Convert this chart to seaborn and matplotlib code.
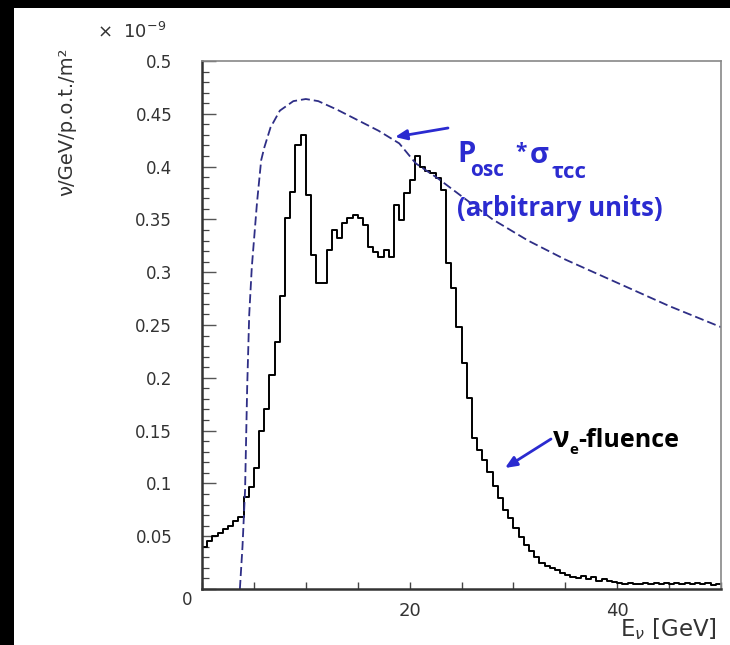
import numpy as np
import pandas as pd
import matplotlib
matplotlib.use("Agg")
import matplotlib.pyplot as plt
import seaborn as sns
from matplotlib.patches import Rectangle
from matplotlib.ticker import FixedLocator, MultipleLocator
from matplotlib import transforms

# ---------------- data ----------------
bin_width = 0.5
fluence_values = [
    0.040, 0.045, 0.050, 0.053, 0.057, 0.060, 0.064, 0.068, 0.087, 0.097,   # 0-5
    0.115, 0.150, 0.170, 0.203, 0.234, 0.277, 0.351, 0.376, 0.420, 0.430,   # 5-10
    0.373, 0.316, 0.290, 0.290, 0.321, 0.340, 0.332, 0.347, 0.351, 0.354,   # 10-15
    0.351, 0.345, 0.324, 0.319, 0.314, 0.321, 0.314, 0.364, 0.349, 0.375,   # 15-20
    0.387, 0.410, 0.400, 0.396, 0.394, 0.389, 0.378, 0.309, 0.285, 0.248,   # 20-25
    0.214, 0.181, 0.143, 0.132, 0.122, 0.111, 0.098, 0.086, 0.075, 0.067,   # 25-30
    0.058, 0.049, 0.042, 0.036, 0.030, 0.025, 0.022, 0.020, 0.018, 0.015,   # 30-35
    0.013, 0.011, 0.010, 0.012, 0.009, 0.011, 0.008, 0.009, 0.008, 0.007,   # 35-40
    0.006, 0.005, 0.006, 0.005, 0.005, 0.006, 0.005, 0.006, 0.005, 0.006,   # 40-45
    0.005, 0.006, 0.005, 0.006, 0.005, 0.006, 0.005, 0.006, 0.004, 0.005,   # 45-50
]
sigma_energy = [3.65, 3.9, 4.15, 4.35, 4.55, 4.8, 5.3, 5.7, 6.0, 6.6, 7.5, 8.8,
                10.0, 11.2, 13.0, 15.0, 17.0, 19.0, 20.6, 22.7, 25.0, 28.0,
                31.4, 35.0, 40.0, 45.0, 50.0]
sigma_value = [0.0, 0.04, 0.094, 0.19, 0.26, 0.305, 0.366, 0.406, 0.418, 0.437,
               0.453, 0.462, 0.464, 0.462, 0.454, 0.444, 0.434, 0.422, 0.403,
               0.389, 0.372, 0.350, 0.330, 0.312, 0.290, 0.268, 0.248]
x_tick_values = [0, 20, 40]
x_tick_labels = ["", "20", "40"]
y_tick_values = [0, 0.05, 0.1, 0.15, 0.2, 0.25, 0.3, 0.35, 0.4, 0.45, 0.5]
y_tick_labels = ["0", "0.05", "0.1", "0.15", "0.2", "0.25", "0.3", "0.35",
                 "0.4", "0.45", "0.5"]

n_bins = len(fluence_values)
centers = (np.arange(n_bins) + 0.5) * bin_width
hist_df = pd.DataFrame({"E": centers, "flux": fluence_values})
curve_df = pd.DataFrame({"E": sigma_energy, "v": sigma_value})

# ---------------- style ----------------
sns.set_style("white")
plt.rcParams["font.family"] = ["DejaVu Sans"]
plt.rcParams["mathtext.fontset"] = "dejavusans"

W, H = 730, 645
fig = plt.figure(figsize=(W / 100, H / 100), dpi=100, facecolor="black")
fig.patches.append(Rectangle((14 / W, 0), 1 - 14 / W, 1 - 8 / H,
                             transform=fig.transFigure, facecolor="white",
                             edgecolor="none", zorder=-10))


def P(x, y):
    return (x / W, 1 - y / H)


ax = fig.add_axes([202 / W, 1 - 589 / H, 519 / W, 528 / H])
ax.set_facecolor("white")

sns.histplot(data=hist_df, x="E", weights="flux", binwidth=bin_width,
             binrange=(0, n_bins * bin_width), element="step",
             fill=False, color="black", linewidth=1.4, ax=ax)
sns.lineplot(data=curve_df, x="E", y="v", color="#2e2e86", linewidth=1.3,
             ax=ax, sort=False)
ax.lines[-1].set_dashes((5, 2.2))

ax.set_xlim(0, 50)
ax.set_ylim(0, 0.5)

ax.xaxis.set_major_locator(FixedLocator(x_tick_values))
ax.xaxis.set_minor_locator(MultipleLocator(5))
ax.set_xticklabels(x_tick_labels)
ax.yaxis.set_major_locator(FixedLocator(y_tick_values))
ax.yaxis.set_minor_locator(MultipleLocator(0.01))
ax.set_yticklabels(y_tick_labels)

ax.tick_params(axis="both", which="both", left=True, bottom=True,
               top=False, right=False)
ax.tick_params(axis="y", which="major", direction="in", length=10, width=1.0,
               color="#555555", pad=21.5, labelsize=12, labelcolor="#333333")
ax.tick_params(axis="y", which="minor", direction="in", length=5, width=0.9,
               color="#444444")
ax.tick_params(axis="x", which="major", direction="in", length=5, width=1.0,
               color="#444444", pad=9, labelsize=13, labelcolor="#333333")
ax.tick_params(axis="x", which="minor", direction="in", length=5, width=1.0,
               color="#444444")

for lab in ax.get_yticklabels():
    if lab.get_text() == "0":
        lab.set_transform(lab.get_transform() +
                          transforms.ScaledTranslation(0.20, -0.09, fig.dpi_scale_trans))

for side in ["left", "bottom"]:
    ax.spines[side].set_linewidth(1.8)
    ax.spines[side].set_color("#333333")
for side in ["top", "right"]:
    ax.spines[side].set_linewidth(1.2)
    ax.spines[side].set_color("#888888")

ax.set_xlabel(r"E$_{\nu}$ [GeV]", fontsize=16.5, color="#333333", loc="right")
ax.xaxis.set_label_coords((717 - 202) / 519, (589 - 616) / 528)
ax.set_ylabel("ν/GeV/p.o.t./m²", fontsize=14, color="#333333", loc="top")
ax.yaxis.set_label_coords((76 - 202) / 519, (589 - 47) / 528)

fig.text(*P(97, 38), r"$\times$  10$^{-9}$", fontsize=13, color="#333333",
         ha="left", va="baseline")

blue = "#2b2bd0"
tf = ["Open Sans", "DejaVu Sans"]
fig.text(*P(457, 162), "P", fontsize=21, fontweight="bold", color=blue,
         family=tf, ha="left", va="baseline")
fig.text(*P(470, 176), "osc", fontsize=15, fontweight="bold", color=blue,
         family=tf, ha="left", va="baseline")
fig.text(*P(515, 158), "*", fontsize=15, fontweight="bold", color=blue,
         family=tf, ha="left", va="baseline")
fig.text(*P(530, 163), "σ", fontsize=21, fontweight="bold", color=blue,
         family=tf, ha="left", va="baseline")
fig.text(*P(552, 178), "τcc", fontsize=16, fontweight="bold", color=blue,
         family=tf, ha="left", va="baseline")
fig.text(*P(457, 216), "(arbitrary units)", fontsize=18.5, fontweight="bold",
         color=blue, family=tf, ha="left", va="baseline")

fig.text(*P(553, 447), "ν", fontsize=20, fontweight="bold", color="black",
         family=tf, ha="left", va="baseline")
fig.text(*P(569, 454), "e", fontsize=11, fontweight="bold", color="black",
         family=tf, ha="left", va="baseline")
fig.text(*P(578, 447), "-fluence", fontsize=18, fontweight="bold",
         color="black", family=tf, ha="left", va="baseline")

arrow_kw = dict(arrowstyle="-|>,head_length=0.7,head_width=0.3", color=blue,
                lw=2, shrinkA=0, shrinkB=0)
ax.annotate("", xy=P(395, 137), xytext=P(448, 128), xycoords="figure fraction",
            textcoords="figure fraction", arrowprops=arrow_kw)
ax.annotate("", xy=P(505, 468), xytext=P(551, 439), xycoords="figure fraction",
            textcoords="figure fraction", arrowprops=arrow_kw)

fig.savefig("out.png", dpi=100, facecolor=fig.get_facecolor())
